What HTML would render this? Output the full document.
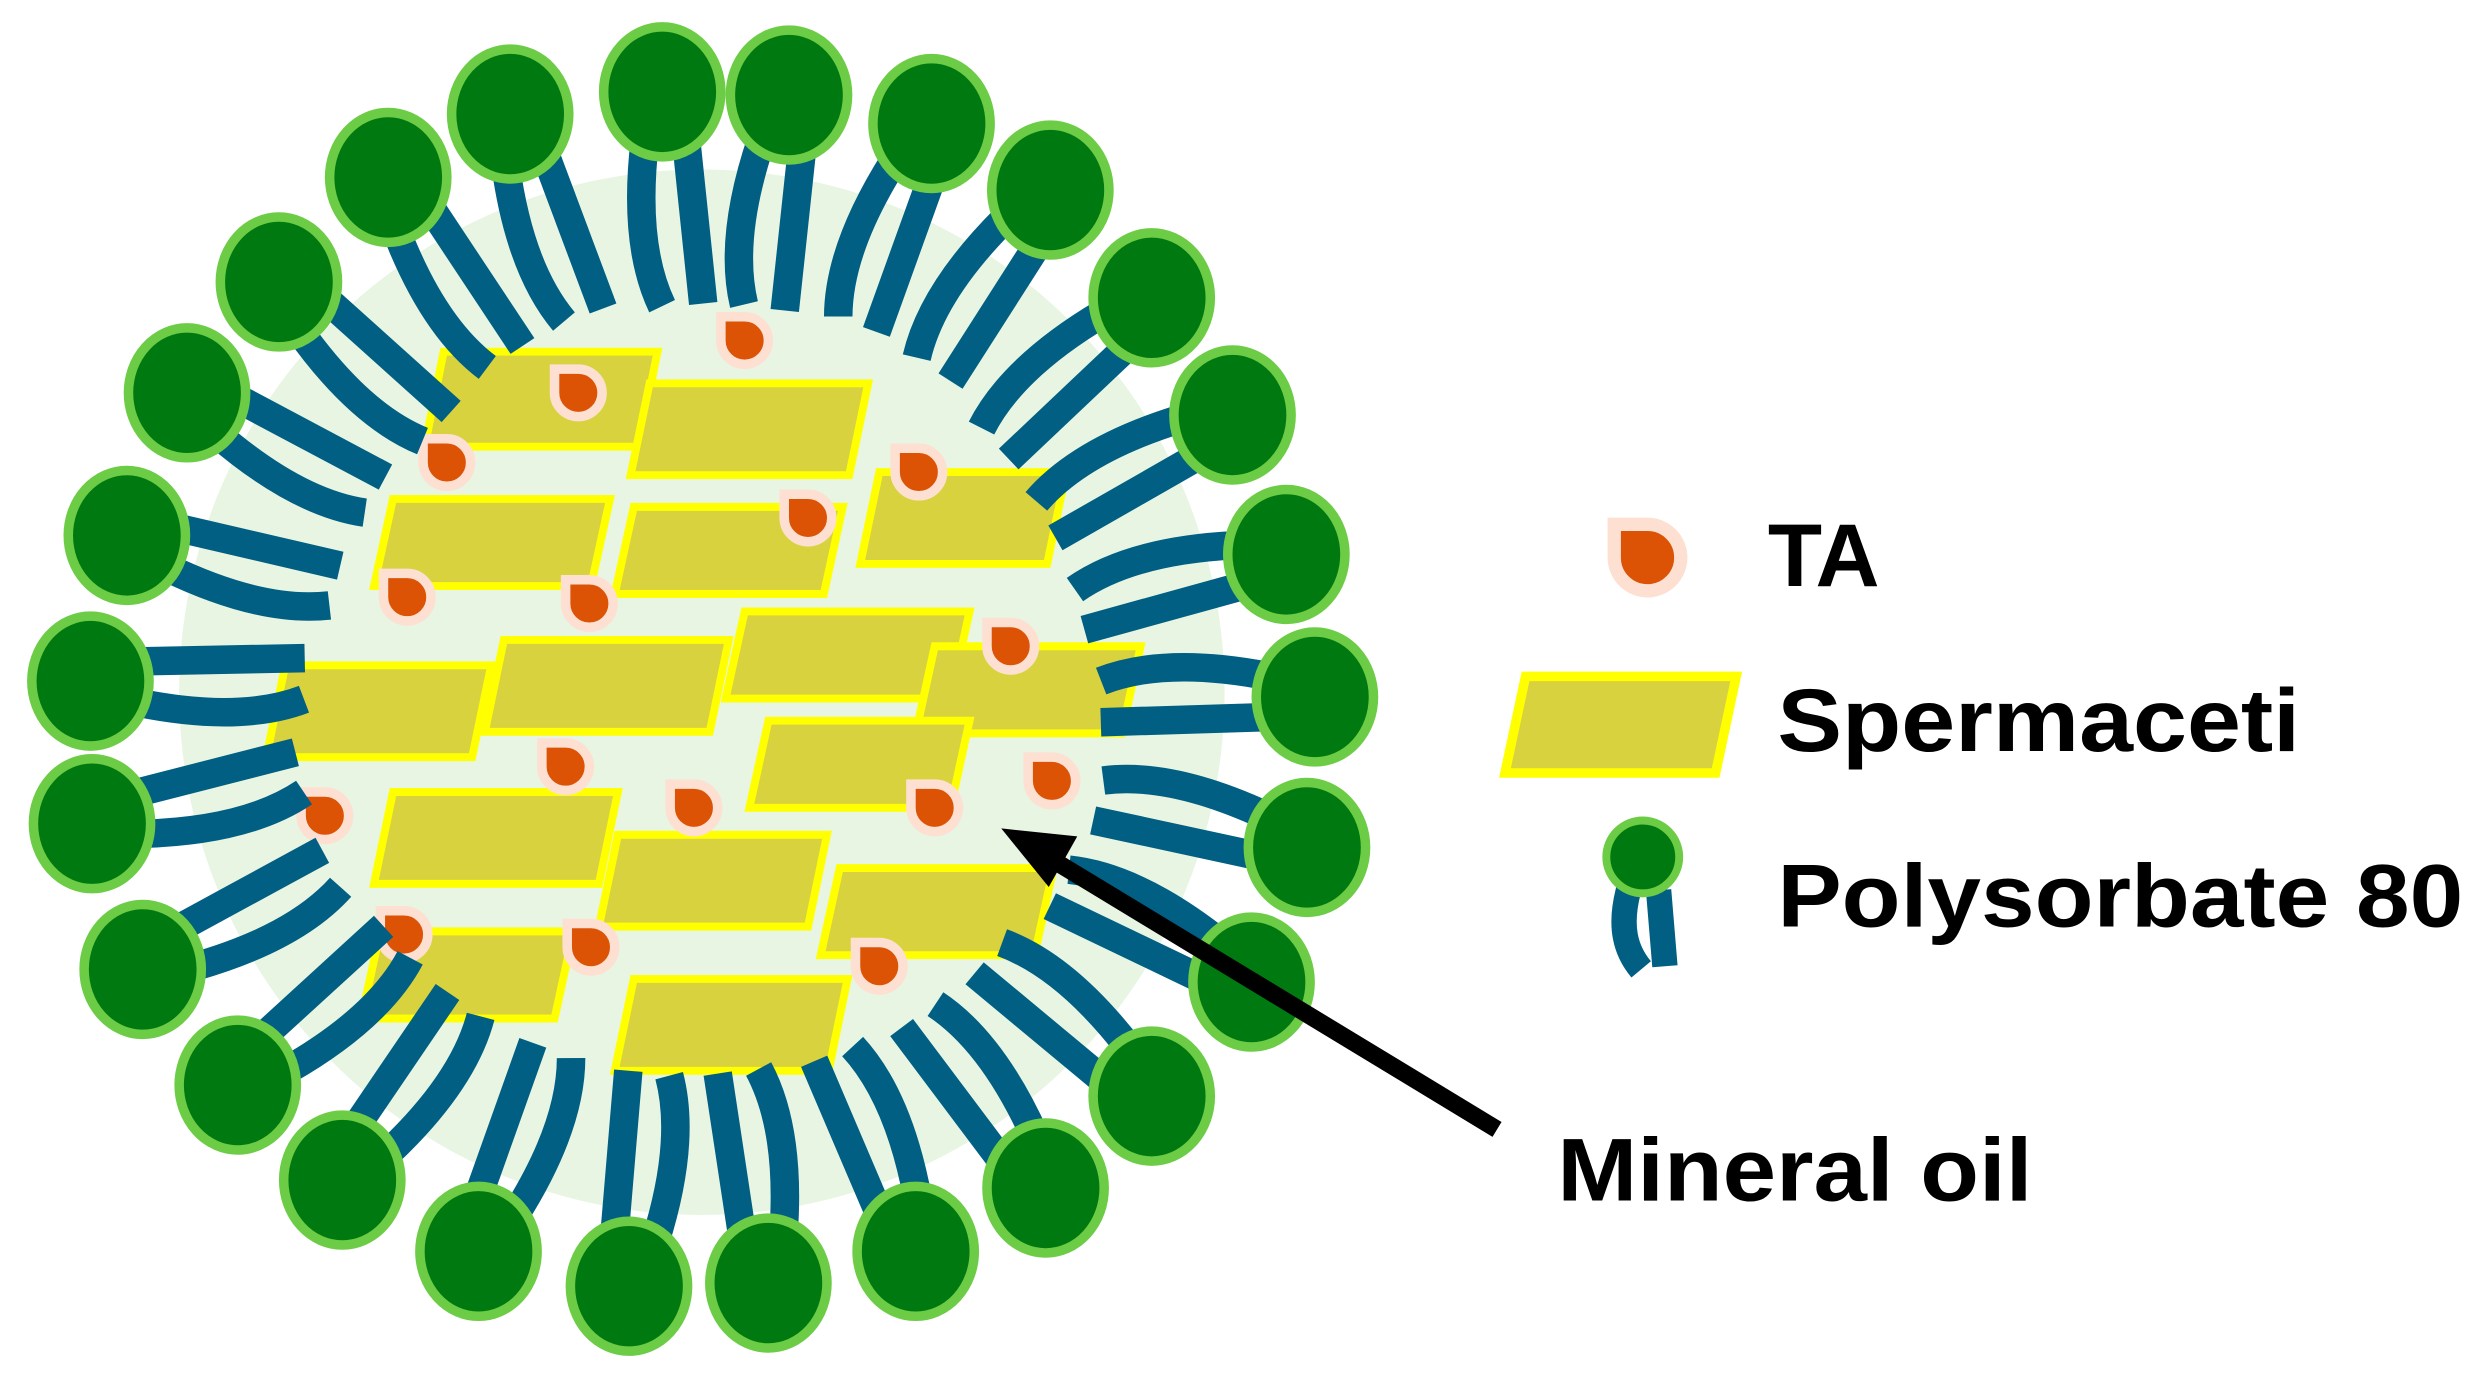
<!DOCTYPE html>
<html><head><meta charset="utf-8"><style>
html,body{margin:0;padding:0;background:#fff;}
svg{display:block}
text{font-family:"Liberation Sans",Arial,sans-serif;font-weight:bold;fill:#000}
</style></head><body>
<svg id="s" width="2484" height="1386" viewBox="0 0 1568 875" xmlns="http://www.w3.org/2000/svg">
<defs>
<g id="drop"><path d="M-15,-15 L0,-15 A15,15 0 1 1 -15,0 Z" fill="#dc5306" stroke="#fde0d2" stroke-width="6"/></g>
</defs>
<circle cx="443" cy="437" r="330" fill="#e8f5e3"/>
<g id="rects" fill="#d9d23f" stroke="#ffff00" stroke-width="5"></g>
<g id="drops"></g>
<g id="tails" fill="none" stroke="#005f82" stroke-width="18"></g>
<g id="heads" fill="#007a10" stroke="#6ccc45" stroke-width="6"></g>
<line x1="945" y1="713" x2="668" y2="545" stroke="#000" stroke-width="11"/>
<polygon points="632,523 680,528 662,560" fill="#000"/>
<use href="#drop" transform="translate(1040,352) scale(1.4)"/>
<text x="1116" y="370" font-size="56">TA</text>
<polygon points="963,427 1096,427 1083,488 950,488" fill="#d9d23f" stroke="#ffff00" stroke-width="6"/>
<text x="1122" y="474" font-size="56" textLength="330" lengthAdjust="spacingAndGlyphs">Spermaceti</text>
<path d="M1028,562 C1022,585 1026,600 1036,612" fill="none" stroke="#005f82" stroke-width="16"/>
<line x1="1047" y1="562" x2="1051" y2="610" stroke="#005f82" stroke-width="16"/>
<circle cx="1037" cy="541" r="23" fill="#007a10" stroke="#6ccc45" stroke-width="5"/>
<text x="1122" y="585" font-size="56" textLength="433" lengthAdjust="spacingAndGlyphs">Polysorbate 80</text>
<text x="983" y="758" font-size="56" textLength="300" lengthAdjust="spacingAndGlyphs">Mineral oil</text>
</svg>
<script>
var NS="http://www.w3.org/2000/svg";
function el(p,t,a){var e=document.createElementNS(NS,t);for(var k in a)e.setAttribute(k,a[k]);document.getElementById(p).appendChild(e);}
var rects=[[280,222,135,60],[410,242,138,58],[555,298,118,58],[248,315,137,55],[400,320,132,55],[470,386,142,55],[318,404,142,58],[590,408,130,55],[180,420,130,58],[485,455,127,55],[248,500,142,58],[390,527,132,58],[530,548,135,55],[240,588,122,55],[400,618,135,58]];
rects.forEach(function(r){var x=r[0],y=r[1],w=r[2],h=r[3],k=12;
el("rects","polygon",{points:(x)+","+y+" "+(x+w)+","+y+" "+(x+w-k)+","+(y+h)+" "+(x-k)+","+(y+h)});});
var drops=[[470,215],[365,248],[282,292],[580,298],[510,327],[257,377],[372,381],[638,408],[357,484],[205,515],[438,510],[590,510],[664,493],[255,590],[373,598],[555,610]];
drops.forEach(function(d){el("drops","use",{href:"#drop",transform:"translate("+d[0]+","+d[1]+")"});});
var heads=[[418,58],[498,60],[588,78],[663,120],[727,188],[778,262],[812,350],[830,440],[825,535],[790,620],[727,692],[660,750],[578,790],[485,810],[397,812],[302,790],[216,745],[150,685],[90,612],[58,520],[57,430],[80,338],[118,248],[176,178],[245,112],[322,72]];
var cx=443,cy=437;
heads.forEach(function(h,i){
 var dx=h[0]-cx,dy=h[1]-cy,L=Math.sqrt(dx*dx+dy*dy),ux=dx/L,uy=dy/L,px=-uy,py=ux;
 var r0=L-30,r1=L-135;
 var o=13;
 el("tails","line",{x1:cx+ux*r0+px*o,y1:cy+uy*r0+py*o,x2:cx+ux*r1+px*(o+4),y2:cy+uy*r1+py*(o+4)});
 var a=[cx+ux*r0-px*o,cy+uy*r0-py*o],m=[cx+ux*(r0-65)-px*(o+12),cy+uy*(r0-65)-py*(o+12)],b=[cx+ux*(r1)-px*(o-4),cy+uy*(r1)-py*(o-4)];
 el("tails","path",{d:"M"+a[0]+","+a[1]+" Q"+m[0]+","+m[1]+" "+b[0]+","+b[1]});
});
heads.forEach(function(h){el("heads","ellipse",{cx:h[0],cy:h[1],rx:37,ry:41});});
</script>
</body></html>
